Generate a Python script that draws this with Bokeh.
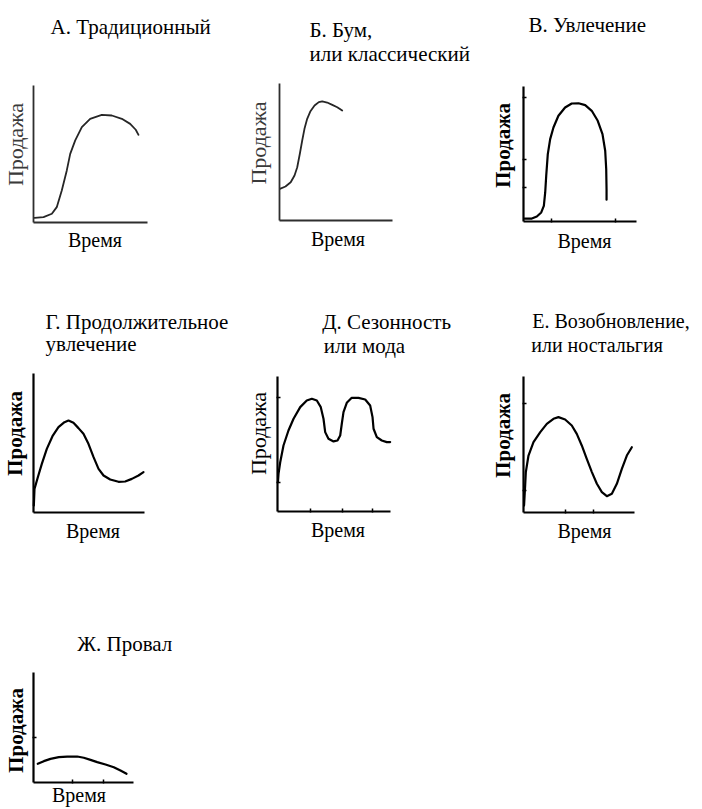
from bokeh.plotting import figure
from bokeh.layouts import column, row
from bokeh.models import Range1d, LinearAxis, FixedTicker
from bokeh.core.properties import value
from bokeh.embed import file_html
from bokeh.resources import INLINE

# ---------------- data (time and sales in % of the axis length) ----------------
trad_time = [0.9, 8.8, 16.1, 20.4, 24.8, 29.2, 32.2, 36.6, 42.4, 49.7, 59.9, 68.7, 77.5, 84.8, 89.7, 92.1]
trad_sales = [3.4, 3.9, 6.4, 11.2, 23.4, 38.0, 50.1, 59.9, 69.6, 75.7, 78.6, 78.1, 75.7, 72.0, 67.7, 64.0]

boom_time = [0.3, 5.3, 9.9, 13.3, 15.7, 18.0, 20.1, 22.1, 24.5, 27.4, 31.0, 34.8, 37.8, 42.2, 46.7, 51.1, 55.5]
boom_sales = [23.1, 24.8, 27.9, 32.8, 38.9, 48.7, 58.4, 66.9, 74.2, 79.8, 83.9, 86.4, 86.9, 86.1, 84.4, 82.7, 80.3]

fad_time = [0.9, 7.4, 11.8, 15.7, 18.0, 19.2, 20.1, 21.5, 23.6, 26.5, 30.9, 36.8, 42.7, 48.7, 54.6,
            60.4, 65.7, 69.9, 72.3, 73.2, 73.5, 73.5]
fad_sales = [2.2, 2.2, 3.7, 6.7, 11.6, 21.5, 33.8, 49.9, 61.0, 69.6, 78.3, 84.4, 87.4, 87.6, 86.2,
             82.0, 74.6, 64.7, 52.4, 38.7, 23.9, 16.1]

ext_time = [0.3, 0.9, 3.9, 7.5, 12.0, 17.1, 22.5, 27.9, 31.5, 36.0, 40.5, 45.0, 49.5, 54.1, 58.6,
            63.1, 69.1, 76.6, 82.6, 88.6, 94.6, 99.1]
ext_sales = [5.0, 17.0, 25.4, 35.0, 45.8, 54.9, 61.4, 65.0, 66.2, 64.5, 60.7, 56.6, 49.4, 39.8, 31.4,
             26.6, 23.7, 22.1, 22.3, 24.2, 26.6, 29.0]

seas_time = [0.4, 0.9, 2.4, 5.3, 9.7, 14.2, 20.1, 25.9, 30.4, 34.8, 38.3, 40.7, 42.2, 45.1, 49.6,
             53.1, 55.5, 56.9, 58.4, 61.3, 65.7, 71.7, 77.6, 82.0, 84.1, 85.0, 87.9, 92.3, 96.7, 99.7]
seas_sales = [21.7, 27.9, 36.5, 48.9, 60.0, 68.7, 77.3, 82.2, 83.5, 82.2, 77.3, 68.7, 58.8, 53.9, 51.9,
              52.6, 56.3, 65.0, 73.6, 80.5, 84.2, 84.2, 83.0, 78.5, 69.9, 61.3, 55.1, 52.6, 51.4, 51.4]

revival_time = [0.5, 1.5, 2.1, 4.5, 9.0, 15.1, 21.0, 27.0, 31.5, 37.5, 43.5, 48.0, 52.5, 57.0, 61.6,
                66.1, 70.6, 75.1, 79.6, 84.1, 88.6, 93.1, 97.6]
revival_sales = [5.1, 19.9, 29.7, 41.9, 51.7, 59.1, 65.2, 68.9, 70.1, 68.4, 64.0, 57.8, 49.3, 39.5, 29.7,
                 21.1, 15.0, 12.0, 13.8, 21.1, 32.1, 41.9, 48.0]

flop_time = [4.3, 10.3, 17.0, 25.3, 33.7, 43.7, 50.3, 57.0, 63.7, 72.0, 80.3, 87.0, 93.0]
flop_sales = [17.0, 19.4, 21.5, 23.0, 23.6, 23.6, 22.5, 20.6, 18.5, 16.4, 13.9, 10.9, 7.9]

# small tick marks seen on some axes
fad_xticks, fad_yticks = [24.8, 81.2], [91.9, 46.1, 25.2]
seas_xticks, seas_yticks = [29.2, 57.5, 84.1], [84.4, 21.5]
revival_xticks, revival_yticks = [37.8, 63.1], [80.1, 16.2]
flop_xticks, flop_yticks = [38.7, 70.3], [41.2]

titles = {
    "trad": ["А. Традиционный"],
    "boom": ["Б. Бум,", "или классический"],
    "fad": ["В. Увлечение"],
    "ext": ["Г. Продолжительное", "увлечение"],
    "seas": ["Д. Сезонность", "или мода"],
    "revival": ["Е. Возобновление,", "или ностальгия"],
    "flop": ["Ж. Провал"],
}
y_label = "Продажа"
x_label = "Время"

SERIF = "Liberation Serif, Times New Roman, serif"

# ---------------- layout (page pixels) ----------------
panels = [
    dict(key="trad", t=trad_time, s=trad_sales, fig=(0, 0, 240, 270), axes=(33, 147, 85, 222),
         title_pos=[(50, 26)], tfs="21px", xt=[], yt=[], color="#262626", lw=1.8, acolor="#2e2e2e",
         ylab_bold=False, ylab_color="#3a3a3a", ylab_c=144, ylab_so=6, xlab_c=94.5, xlab_so=6),
    dict(key="boom", t=boom_time, s=boom_sales, fig=(240, 0, 240, 270), axes=(279, 392, 83, 220),
         title_pos=[(309, 29.3), (309, 53.3)], tfs="21px", xt=[], yt=[], color="#262626", lw=1.8,
         acolor="#2e2e2e", ylab_bold=False, ylab_color="#3a3a3a", ylab_c=142.5, ylab_so=9,
         xlab_c=337.5, xlab_so=7),
    dict(key="fad", t=fad_time, s=fad_sales, fig=(480, 0, 220, 270), axes=(523, 636, 86, 221),
         title_pos=[(528, 24)], tfs="21px", xt=fad_xticks, yt=fad_yticks, color="black", lw=2.2,
         acolor="black", ylab_bold=True, ylab_color="black", ylab_c=145, ylab_so=9, xlab_c=584, xlab_so=8),
    dict(key="ext", t=ext_time, s=ext_sales, fig=(0, 270, 240, 290), axes=(33, 144, 373, 512),
         title_pos=[(45, 321.7), (45, 343.3)], tfs="21px", xt=[], yt=[], color="black", lw=2.2,
         acolor="black", ylab_bold=True, ylab_color="black", ylab_c=433, ylab_so=7, xlab_c=92.5, xlab_so=7),
    dict(key="seas", t=seas_time, s=seas_sales, fig=(240, 270, 240, 290), axes=(277, 390, 376, 511),
         title_pos=[(321.7, 321.7), (323.3, 345)], tfs="21px", xt=seas_xticks, yt=seas_yticks,
         color="black", lw=2.2, acolor="black", ylab_bold=False, ylab_color="black", ylab_c=433,
         ylab_so=7, xlab_c=337.5, xlab_so=7),
    dict(key="revival", t=revival_time, s=revival_sales, fig=(480, 270, 220, 290), axes=(523, 634, 376, 512),
         title_pos=[(531.7, 320.7), (530.7, 344.3)], tfs="20px", xt=revival_xticks, yt=revival_yticks,
         color="black", lw=2.2, acolor="black", ylab_bold=True, ylab_color="black", ylab_c=435,
         ylab_so=9, xlab_c=584, xlab_so=7),
    dict(key="flop", t=flop_time, s=flop_sales, fig=(0, 560, 240, 248), axes=(33, 133, 672, 782),
         title_pos=[(76.7, 643.3)], tfs="21px", xt=flop_xticks, yt=flop_yticks, color="black", lw=2.2,
         acolor="black", ylab_bold=True, ylab_color="black", ylab_c=730, ylab_so=6, xlab_c=78.5, xlab_so=1),
]


def make_panel(sp):
    fx0, fy0, fw, fh = sp["fig"]
    ax0, ax1, at, ab = sp["axes"]
    aw, ah = ax1 - ax0, ab - at

    def dx(px):
        return (px - ax0) / aw * 100.0

    def dy(py):
        return (ab - py) / ah * 100.0

    p = figure(width=fw, height=fh,
               x_range=Range1d(dx(fx0), dx(fx0 + fw)),
               y_range=Range1d(dy(fy0 + fh), dy(fy0)),
               x_axis_type=None, y_axis_type=None,
               output_backend="svg", toolbar_location=None, min_border=0)
    p.outline_line_color = None
    p.background_fill_color = "white"
    p.border_fill_color = "white"

    # axis rules (small marks drawn as minor ticks, no tick labels)
    xa = LinearAxis(fixed_location=0, bounds=(0, 100), ticker=FixedTicker(ticks=[], minor_ticks=sp["xt"]))
    ya = LinearAxis(fixed_location=0, bounds=(0, 100), ticker=FixedTicker(ticks=[], minor_ticks=sp["yt"]))
    for ax in (xa, ya):
        ax.axis_line_color = sp["acolor"]
        ax.axis_line_width = 2.2 if sp["acolor"] == "black" else 1.8
        ax.major_tick_in = 0
        ax.major_tick_out = 0
        ax.minor_tick_in = 3
        ax.minor_tick_out = 1
        ax.minor_tick_line_width = 1.5
        ax.minor_tick_line_color = sp["acolor"]
        ax.major_label_standoff = 0
    p.add_layout(xa, "below")
    p.add_layout(ya, "left")

    # axis labels (carried by line-less axes centred where the labels sit)
    xc = dx(sp["xlab_c"])
    xl = LinearAxis(fixed_location=0, bounds=(xc - 0.01, xc + 0.01), ticker=FixedTicker(ticks=[]),
                    axis_line_color=None, major_tick_out=0, major_tick_in=0,
                    minor_tick_out=0, minor_tick_in=0, major_label_standoff=0,
                    axis_label=x_label, axis_label_standoff=sp["xlab_so"],
                    axis_label_text_font=SERIF, axis_label_text_font_style="normal",
                    axis_label_text_font_size="20px", axis_label_text_color="black")
    yc = dy(sp["ylab_c"])
    yl = LinearAxis(fixed_location=0, bounds=(yc - 0.01, yc + 0.01), ticker=FixedTicker(ticks=[]),
                    axis_line_color=None, major_tick_out=0, major_tick_in=0,
                    minor_tick_out=0, minor_tick_in=0, major_label_standoff=0,
                    axis_label=y_label, axis_label_standoff=sp["ylab_so"],
                    axis_label_text_font=SERIF,
                    axis_label_text_font_style="bold" if sp["ylab_bold"] else "normal",
                    axis_label_text_font_size="21px" if sp["ylab_bold"] else "22px",
                    axis_label_text_color=sp["ylab_color"])
    p.add_layout(xl, "below")
    p.add_layout(yl, "left")

    # curve
    p.line(sp["t"], sp["s"], line_color=sp["color"], line_width=sp["lw"],
           line_join="round", line_cap="round")

    # title lines
    lines = titles[sp["key"]]
    p.text(x=[dx(px) for px, _ in sp["title_pos"]],
           y=[dy(py) for _, py in sp["title_pos"]],
           text=lines, text_font=value(SERIF), text_font_size=value(sp["tfs"]),
           text_baseline="alphabetic", text_align="left", text_color="black")
    return p


figs = {sp["key"]: make_panel(sp) for sp in panels}

layout = column(
    row(figs["trad"], figs["boom"], figs["fad"]),
    row(figs["ext"], figs["seas"], figs["revival"]),
    row(figs["flop"]),
)

open("out.html", "w").write(file_html(layout, INLINE))
